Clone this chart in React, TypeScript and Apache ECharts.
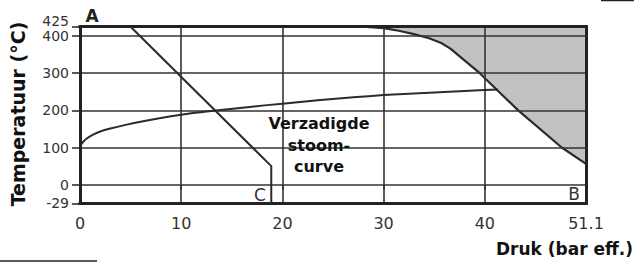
import React, { useEffect, useRef } from "react";
import * as echarts from "echarts";

// Axis ticks (positions on the drawn scale) and their printed labels
const xTickValues = [0, 10, 20, 30, 40, 50];
const xTickLabels = ["0", "10", "20", "30", "40", "51.1"];
const yTickValues = [-50, 0, 100, 200, 300, 400, 425];
const yTickLabels = ["-29", "0", "100", "200", "300", "400", "425"];
const yTopValues = [425];
const hGridValues = [0, 100, 200, 300, 400];
const vGridValues = [10, 20, 30, 40];
const xBorder = [0, 50];
const yBorder = [-50, 425];

// Line A – C
const lineACx = [5, 18.9, 18.9];
const lineACy = [425, 50, -50];

// Saturated steam curve
const steamX = [0, 0.3, 0.7, 1.3, 2, 3, 4.5, 6.5, 9, 11, 13.2, 17, 20, 23.5, 27, 30, 34, 38, 41.3];
const steamY = [104, 115, 125, 135, 143, 151, 161, 172, 184, 192, 199, 210, 218, 227, 235, 241, 247, 252, 256];

// Limit boundary of shaded region (A – B)
const limitX = [28, 30, 31.5, 33, 34.5, 35.7, 36.6, 39.5, 43.3, 47.6, 50];
const limitY = [425, 421, 414, 405, 394, 381, 366, 300, 200, 100, 56];

const FONT = "DejaVu Sans";
const LINE = "#2b2b2b";

export default function App() {
  const ref = useRef<HTMLDivElement>(null);
  useEffect(() => {
    if (!ref.current) return;
    const chart = echarts.init(ref.current, null, { renderer: "svg" });
    const zip = (xs: number[], ys: number[]) => xs.map((x, i) => [x, ys[i]]);
    const gridLine = { color: "#333", width: 1.6, type: "solid" as const };
    const mk = (data: any[], lineStyle: any) => ({
      silent: true,
      symbol: ["none", "none"],
      label: { show: false },
      lineStyle,
      emphasis: { disabled: true },
      data,
    });
    const dummy = (z: number, markLine: any) => ({
      type: "line",
      z,
      data: [[0, -50]],
      showSymbol: false,
      lineStyle: { opacity: 0 },
      silent: true,
      markLine,
    });
    const yLabelFmt = (v: number) => {
      const i = yTickValues.indexOf(v);
      return i >= 0 ? yTickLabels[i] : "";
    };
    const yLabelBase = {
      showMinLabel: true,
      showMaxLabel: true,
      hideOverlap: false,
      margin: 11,
      color: "#333",
      fontFamily: FONT,
      fontSize: 14,
      lineHeight: 12,
      formatter: yLabelFmt,
    };
    chart.setOption({
      animation: false,
      backgroundColor: "#fff",
      grid: { left: 80, right: 48, top: 26.7, bottom: 58.7, show: false },
      xAxis: {
        type: "value",
        min: 0,
        max: 50,
        interval: 10,
        splitLine: { show: false },
        axisLine: { show: false },
        axisTick: { show: true, length: 5, customValues: xTickValues, lineStyle: { color: "#222", width: 1.5 } },
        axisLabel: {
          customValues: xTickValues,
          showMinLabel: true,
          showMaxLabel: true,
          hideOverlap: false,
          margin: 12,
          color: "#333",
          fontFamily: FONT,
          fontSize: 16,
          formatter: (v: number) => {
            const i = xTickValues.indexOf(v);
            return i >= 0 ? xTickLabels[i] : "";
          },
        },
      },
      yAxis: [
        {
          type: "value",
          min: -50,
          max: 425,
          position: "left",
          splitLine: { show: false },
          axisLine: { show: false },
          axisTick: { show: true, length: 8, customValues: yTickValues, lineStyle: { color: "#222", width: 1.5 } },
          axisLabel: { ...yLabelBase, customValues: yTickValues.filter((v) => v !== 425) },
        },
        {
          type: "value",
          min: -50,
          max: 425,
          position: "left",
          offset: 0,
          splitLine: { show: false },
          axisLine: { show: false },
          axisTick: { show: false },
          axisLabel: { ...yLabelBase, customValues: yTopValues, verticalAlign: "bottom" },
        },
      ],
      series: [
        dummy(1, mk(hGridValues.map((v) => ({ yAxis: v })), gridLine)),
        dummy(3, mk(vGridValues.map((v) => ({ xAxis: v })), gridLine)),
        {
          type: "line",
          z: 4,
          data: zip(limitX, limitY),
          showSymbol: false,
          smooth: false,
          lineStyle: { color: LINE, width: 2.2 },
          areaStyle: { origin: "end", color: "#c2c2c4", opacity: 1 },
        },
        {
          type: "line",
          z: 5,
          data: zip(lineACx, lineACy),
          showSymbol: false,
          lineStyle: { color: LINE, width: 2 },
        },
        {
          type: "line",
          z: 5,
          data: zip(steamX, steamY),
          showSymbol: false,
          smooth: 0.3,
          lineStyle: { color: LINE, width: 2 },
        },
        dummy(
          6,
          mk(
            [...yBorder.map((v) => ({ yAxis: v })), ...xBorder.map((v) => ({ xAxis: v }))],
            { color: "#222", width: 3, type: "solid", cap: "square" }
          )
        ),
      ],
      graphic: [
        { type: "rect", z: 2, shape: { x: 286, y: 108, width: 65, height: 70 }, style: { fill: "#fff" } },
        {
          type: "text",
          z: 10,
          x: 319,
          y: 145,
          style: {
            text: "Verzadigde\nstoom-\ncurve",
            fontFamily: FONT,
            fontWeight: "bold",
            fontSize: 16,
            lineHeight: 21.5,
            fill: "#111",
            align: "center",
            verticalAlign: "middle",
          },
        },
        {
          type: "text",
          z: 10,
          x: 92,
          y: 16,
          style: { text: "A", fontFamily: FONT, fontWeight: "bold", fontSize: 17, fill: "#222", align: "center", verticalAlign: "middle" },
        },
        {
          type: "text",
          z: 10,
          x: 260,
          y: 194.5,
          style: { text: "C", fontFamily: FONT, fontSize: 17, fill: "#333", align: "center", verticalAlign: "middle" },
        },
        {
          type: "text",
          z: 10,
          x: 574,
          y: 193.5,
          style: { text: "B", fontFamily: FONT, fontSize: 17, fill: "#333", align: "center", verticalAlign: "middle" },
        },
        {
          type: "text",
          z: 10,
          x: 18,
          y: 114,
          rotation: Math.PI / 2,
          style: {
            text: "Temperatuur (°C)",
            fontFamily: FONT,
            fontWeight: "bold",
            fontSize: 19,
            fill: "#111",
            align: "center",
            verticalAlign: "middle",
          },
        },
        {
          type: "text",
          z: 10,
          x: 633,
          y: 249,
          style: {
            text: "Druk (bar eff.)",
            fontFamily: FONT,
            fontWeight: "bold",
            fontSize: 17,
            fill: "#111",
            align: "right",
            verticalAlign: "middle",
          },
        },
        { type: "line", z: 10, shape: { x1: 601, y1: 0.5, x2: 634, y2: 0.5 }, style: { stroke: "#222", lineWidth: 1.5 } },
        { type: "line", z: 10, shape: { x1: 0, y1: 261, x2: 97, y2: 261 }, style: { stroke: "#222", lineWidth: 1.5 } },
      ],
    });
    return () => chart.dispose();
  }, []);
  return (
    <div
      ref={ref}
      style={{ position: "fixed", left: 0, top: 0, width: 634, height: 262, background: "#fff" }}
    />
  );
}
